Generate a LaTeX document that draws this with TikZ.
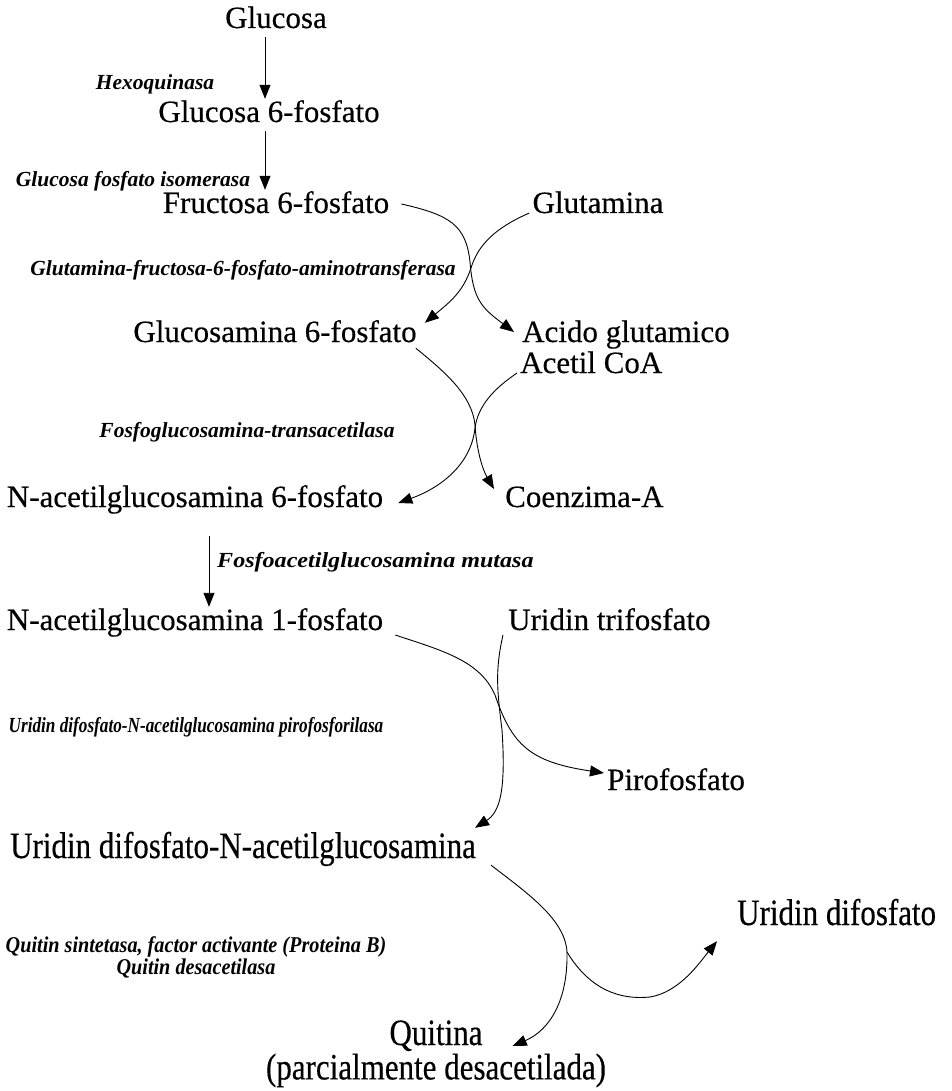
\documentclass[tikz,border=0pt]{standalone}
\usepackage{fontspec}
\setmainfont{Liberation Serif}
\newfontfamily\metfont[FakeBold=0.4]{Liberation Serif}
\usetikzlibrary{positioning,arrows.meta}

% taller, narrower letters of the lower part
\newcommand{\lowtxt}[1]{\scalebox{1.0}[1.2]{#1}}

\begin{document}
\begin{tikzpicture}[x=1pt, y=-1pt,
% node style
met/.style={inner sep=3pt, text height=20pt, text depth=6pt, font=\metfont\fontsize{31}{37}\selectfont},
enz/.style={inner sep=1pt, font=\fontsize{21.5}{25}\selectfont\bfseries\itshape},
reac/.style={-{Triangle[length=14pt,width=11pt]}, line width=0.9pt}
]
\useasboundingbox (0,0) rectangle (951,1091);

% nodes
\node[met] (glc) at (276,21) {Glucosa};
\node[met] (g6p) at (269,115) {Glucosa 6-fosfato};
\node[met] (f6p) at (276,206) {Fructosa 6-fosfato};
\node[met] (gln) at (598,206) {Glutamina};
\node[met] (gn6p) at (275,335) {Glucosamina 6-fosfato};
\node[met, anchor=west] (glu) at (519,335) {Acido glutamico};
\node[met, anchor=west] (acoa) at (517,366) {Acetil CoA};
\node[met] (nag6p) at (195,500) {N-acetilglucosamina 6-fosfato};
\node[met, anchor=west] (coa) at (502,500) {Coenzima-A};
\node[met] (nag1p) at (195,623) {N-acetilglucosamina 1-fosfato};
\node[met, anchor=west] (utp) at (505,623) {Uridin trifosfato};
\node[met, anchor=west] (ppi) at (604,783) {Pirofosfato};
\node[met] (udpnag) at (243,851) {\lowtxt{Uridin difosfato-N-acetilglucosamina}};
\node[met, anchor=west] (udp) at (734,918) {\lowtxt{Uridin difosfato}};
\node[met] (qui) at (436,1038) {\lowtxt{Quitina}};
\node[met] (quip) [below=2pt of qui] {\lowtxt{(parcialmente desacetilada)}};

% enzymes
\node[enz] (hk) at (155,84) {Hexoquinasa};
\node[enz] (gpi) at (133,181) {Glucosa fosfato isomerasa};
\node[enz] (gfat) at (243,270) {Glutamina-fructosa-6-fosfato-aminotransferasa};
\node[enz] (gnat) at (247,432) {Fosfoglucosamina-transacetilasa};
\node[enz, anchor=west] (agm) at (216,562) {\scalebox{1.12}[1]{Fosfoacetilglucosamina mutasa}};
\node[enz] (uap) at (196,727) {\scalebox{0.8}[1]{Uridin difosfato-N-acetilglucosamina pirofosforilasa}};
\node[enz] (chs) at (196,958) {\scalebox{0.94}[1.05]{\begin{tabular}{c}Quitin sintetasa, factor activante (Proteina B)\\[-4pt]Quitin desacetilasa\end{tabular}}};

% draw lines between nodes
\draw[reac] ([xshift=-11pt]glc.south) -- ([xshift=-11pt]glc.south |- g6p.north);
\draw[reac] ([xshift=-4pt]g6p.south) -- ([xshift=-4pt]g6p.south |- f6p.north);
\draw[reac] ([xshift=9pt,yshift=2pt]f6p.east) .. controls (450,215) and (466,225) .. (470,262)
  .. controls (473,300) and (482,308) .. ([xshift=-5pt,yshift=3pt]glu.west);
\draw[reac] ([yshift=-7pt]gln.west) .. controls (495,228) and (478,245) .. (471,268)
  .. controls (463,292) and (450,302) .. ([xshift=5pt,yshift=-4pt]gn6p.north east);
\draw[reac] ([xshift=-4pt,yshift=3pt]gn6p.south east) .. controls (445,372) and (472,395) .. (475,425)
  .. controls (477,455) and (484,472) .. ([xshift=-8pt,yshift=11pt]coa.west);
\draw[reac] ([yshift=-7pt]acoa.west) .. controls (495,388) and (478,405) .. (475,428)
  .. controls (471,465) and (440,488) .. ([xshift=12pt,yshift=-3pt]nag6p.east);
\draw[reac, shorten <=20pt] ([xshift=14pt]nag6p.south) -- ([xshift=14pt]nag6p.south |- nag1p.north);
\draw[reac] ([xshift=9pt,yshift=-12pt]nag1p.east) .. controls (440,650) and (480,660) .. (495,695)
  .. controls (512,745) and (530,762) .. ([yshift=10pt]ppi.west);
\draw[reac] ([xshift=-2pt,yshift=-12pt]utp.west) .. controls (495,670) and (497,690) .. (502,730)
  .. controls (506,790) and (500,812) .. ([xshift=-4pt,yshift=7pt]udpnag.north east);
\coordinate (br) at (567,952);
\draw[reac] ([xshift=12pt,yshift=2pt]udpnag.south east) .. controls (530,895) and (565,920) .. (br)
  .. controls (568,1000) and (550,1030) .. ([xshift=27pt,yshift=-8pt]qui.east);
\draw[reac] (br) .. controls (590,990) and (620,1000) .. (650,997)
  .. controls (680,992) and (700,962) .. ([xshift=-17pt,yshift=-7pt]udp.south west);

\end{tikzpicture}
\end{document}
